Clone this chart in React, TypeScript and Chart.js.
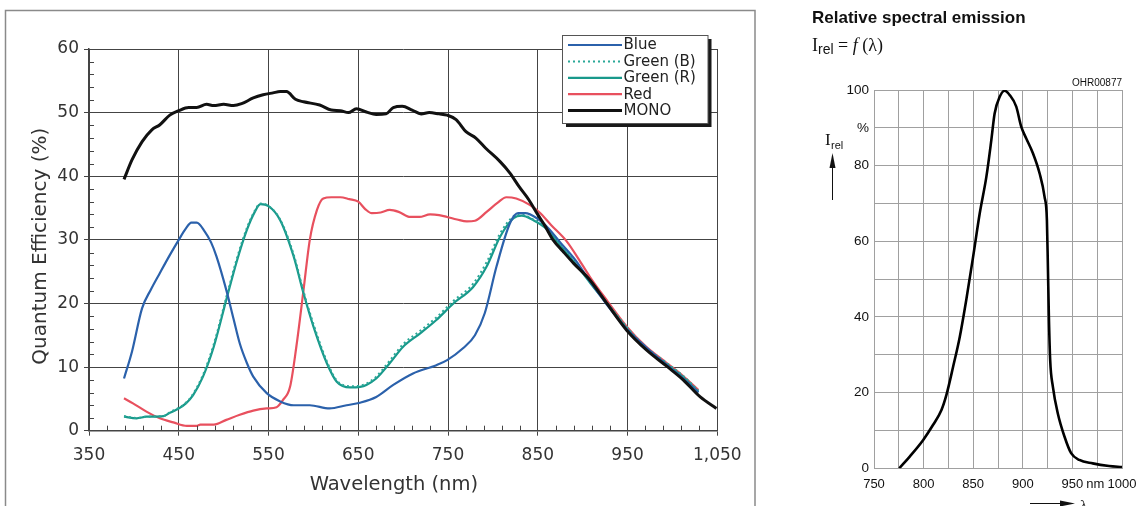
import React, { useEffect, useRef } from 'react';
import { Chart, registerables } from 'chart.js';

Chart.register(...registerables);

// ---------- Left chart: Quantum efficiency ----------
const blueNm = [389, 398, 409, 419, 429, 440, 450, 458, 464, 470, 479, 486, 492, 503, 511, 518, 526, 533, 548, 563, 578, 596, 618, 637, 652, 670, 689, 711, 737, 749, 767, 780, 791, 804, 819, 828, 836, 849, 862, 875, 892, 908, 926, 949, 970, 994, 1012, 1029];
const blueQE = [8.2, 12.5, 19.2, 22.2, 24.8, 27.6, 30.0, 31.8, 32.7, 32.7, 31.3, 29.6, 27.4, 22.1, 17.6, 13.7, 10.6, 8.5, 5.9, 4.6, 4.0, 4.0, 3.5, 4.0, 4.4, 5.3, 7.2, 9.0, 10.3, 11.1, 13.0, 15.0, 18.5, 25.8, 32.6, 34.2, 34.2, 33.4, 31.8, 29.6, 26.8, 23.5, 20.0, 16.0, 13.2, 10.3, 8.2, 6.0];

const greenRNm = [389, 403, 414, 433, 440, 450, 458, 466, 477, 489, 503, 515, 526, 534, 541, 550, 563, 578, 589, 600, 615, 626, 641, 652, 659, 670, 685, 700, 719, 737, 756, 778, 793, 808, 823, 832, 845, 860, 871, 890, 908, 928, 949, 970, 994, 1012, 1029];
const greenRQE = [2.2, 1.95, 2.2, 2.3, 2.8, 3.5, 4.3, 5.6, 8.5, 13.2, 20.6, 26.8, 31.6, 34.2, 35.6, 35.3, 33.1, 27.4, 21.6, 16.4, 10.6, 7.7, 6.8, 6.9, 7.2, 8.2, 10.6, 13.2, 15.3, 17.4, 20.0, 22.6, 25.8, 30.5, 33.4, 33.8, 33.1, 31.7, 29.8, 26.6, 23.3, 19.8, 16.1, 13.0, 10.4, 8.4, 6.1];

const greenBNm = [389, 403, 414, 433, 440, 450, 458, 466, 477, 489, 503, 515, 526, 534, 541, 550, 563, 578, 589, 600, 615, 626, 641, 652, 659, 670, 685, 700, 719, 737, 756, 778, 793, 808, 823, 832, 845, 860, 871, 890, 908, 928, 949, 970, 994, 1012, 1029];
const greenBQE = [2.3, 2.0, 2.2, 2.3, 2.9, 3.6, 4.4, 5.8, 8.8, 13.6, 21.0, 27.2, 31.9, 34.4, 35.7, 35.3, 33.2, 27.7, 21.9, 16.8, 10.9, 7.9, 7.0, 7.1, 7.4, 8.5, 11.0, 13.6, 15.7, 17.8, 20.4, 23.1, 26.5, 31.0, 33.7, 34.0, 33.2, 31.9, 30.0, 26.8, 23.5, 20.0, 16.3, 13.2, 10.6, 8.6, 6.3];

const redNm = [389, 399, 414, 429, 444, 459, 470, 474, 489, 503, 518, 533, 548, 559, 566, 574, 581, 589, 596, 604, 611, 620, 630, 640, 650, 658, 665, 675, 685, 695, 708, 718, 730, 740, 749, 760, 771, 780, 793, 805, 815, 826, 841, 852, 865, 882, 895, 908, 928, 949, 970, 994, 1012, 1029];
const redQE = [5.1, 4.3, 3.0, 1.95, 1.3, 0.75, 0.75, 0.95, 0.95, 1.7, 2.5, 3.15, 3.5, 3.7, 4.8, 6.9, 13.2, 22.1, 30.0, 34.7, 36.5, 36.7, 36.7, 36.4, 36.0, 34.8, 34.2, 34.3, 34.7, 34.4, 33.6, 33.6, 34.0, 33.9, 33.6, 33.2, 32.9, 33.0, 34.4, 35.8, 36.7, 36.5, 35.5, 34.3, 32.3, 29.8, 27.1, 24.2, 20.3, 16.4, 13.3, 10.6, 8.6, 6.4];

const monoNm = [389, 398, 409, 420, 429, 440, 450, 461, 470, 481, 489, 500, 511, 520, 533, 544, 555, 563, 570, 580, 589, 607, 620, 630, 639, 648, 659, 670, 681, 689, 699, 710, 720, 729, 740, 749, 759, 770, 781, 792, 808, 819, 829, 840, 849, 858, 867, 878, 890, 908, 927, 949, 971, 994, 1012, 1031, 1049];
const monoQE = [39.5, 42.6, 45.4, 47.3, 48.1, 49.6, 50.3, 50.8, 50.8, 51.3, 51.1, 51.3, 51.1, 51.4, 52.3, 52.8, 53.1, 53.3, 53.3, 52.1, 51.7, 51.2, 50.4, 50.3, 50.0, 50.6, 50.1, 49.7, 49.8, 50.8, 51.0, 50.4, 49.8, 50.0, 49.8, 49.6, 48.9, 47.0, 46.0, 44.4, 42.3, 40.5, 38.4, 36.3, 34.2, 32.2, 30.0, 28.2, 26.3, 23.7, 20.0, 15.8, 12.7, 10.1, 8.0, 5.3, 3.5];

const qeXTickLabels = ['350', '450', '550', '650', '750', '850', '950', '1,050'];
const qeYTickLabels = ['0', '10', '20', '30', '40', '50', '60'];

// ---------- Right chart: relative spectral emission ----------
const emissionNm = [775.5, 786, 799.6, 809.6, 818, 823, 829.8, 836.5, 843, 849.9, 856.6, 863.3, 868.3, 871.6, 876.7, 881.7, 886.7, 893.4, 898.4, 903.5, 910.2, 916.9, 921.9, 924.3, 925.3, 926.3, 927.6, 930.3, 935.3, 942, 948.7, 957, 970.5, 987, 1000];
const emissionRel = [0, 3.1, 7.5, 11.5, 15.4, 19.4, 26.9, 34.8, 44.5, 55.9, 67.4, 77.1, 86.8, 93.8, 98.2, 99.8, 98.7, 95.6, 90.3, 87.2, 83.3, 78.0, 71.8, 65.6, 53.3, 40.1, 28.6, 21.6, 14.5, 8.4, 4.0, 2.2, 1.3, 0.6, 0.3];

const emXTickLabels = ['750', '', '800', '', '850', '', '900', '', '950', 'nm ', '1000'];
const emYTickLabels = ['0', '', '20', '', '40', '', '60', '', '80', '%', '100'];

const pts = (xs: number[], ys: number[]) => xs.map((x, i) => ({ x, y: ys[i] }));

const QE_FONT = '"DejaVu Sans", "Open Sans", sans-serif';
const EM_FONT = '"Liberation Sans", Arial, sans-serif';

const noXPad = (s: any, h: number) => { s.height = h; s.paddingLeft = 0; s.paddingRight = 0; };
const noYPad = (s: any, w: number) => { s.width = w; s.paddingTop = 0; s.paddingBottom = 0; };

const framePlugin = {
  id: 'frame',
  beforeDraw(chart: any) {
    const ctx = chart.ctx;
    ctx.save();
    ctx.fillStyle = '#fff';
    ctx.fillRect(0, 0, chart.width, chart.height);
    ctx.strokeStyle = '#8a8a8a';
    ctx.lineWidth = 1.5;
    ctx.strokeRect(5.5, 10.5, 749.5, 520);
    ctx.restore();
  },
};

const minorTicksPlugin = {
  id: 'minorTicks',
  afterDraw(chart: any) {
    const ctx = chart.ctx;
    const xs = chart.scales.x;
    const ys = chart.scales.y;
    const { left, bottom } = chart.chartArea;
    ctx.save();
    ctx.strokeStyle = '#444';
    ctx.lineWidth = 1;
    ctx.beginPath();
    for (let v = xs.min + 20; v < xs.max; v += 20) {
      if ((v - xs.min) % 100 === 0) continue;
      const px = Math.round(xs.getPixelForValue(v)) + 0.5;
      ctx.moveTo(px, bottom);
      ctx.lineTo(px, bottom - 5);
    }
    for (let v = ys.min + 2; v < ys.max; v += 2) {
      if (v % 10 === 0) continue;
      const py = Math.round(ys.getPixelForValue(v)) + 0.5;
      ctx.moveTo(left, py);
      ctx.lineTo(left + 5, py);
    }
    ctx.stroke();
    ctx.restore();
  },
};

const boxLegendPlugin = {
  id: 'boxLegend',
  afterDraw(chart: any) {
    const ctx = chart.ctx;
    const x0 = 562.5, y0 = 35.5, w = 145.5, h = 88;
    ctx.save();
    ctx.fillStyle = '#1a1a1a';
    ctx.fillRect(x0 + 3.5, y0 + 3.5, w, h);
    ctx.fillStyle = '#fff';
    ctx.fillRect(x0, y0, w, h);
    ctx.strokeStyle = '#555';
    ctx.lineWidth = 1;
    ctx.strokeRect(x0, y0, w, h);
    ctx.font = '15px ' + QE_FONT;
    ctx.textBaseline = 'middle';
    chart.data.datasets.forEach((ds: any, i: number) => {
      const y = 45 + i * 16.4;
      ctx.beginPath();
      ctx.strokeStyle = ds.borderColor;
      ctx.lineWidth = ds.borderWidth;
      ctx.setLineDash(ds.borderDash || []);
      ctx.moveTo(568, y);
      ctx.lineTo(622, y);
      ctx.stroke();
      ctx.setLineDash([]);
      ctx.fillStyle = '#222';
      ctx.fillText(ds.label, 623.5, y + 0.5);
    });
    ctx.restore();
  },
};

const emExtrasPlugin = {
  id: 'emExtras',
  afterDraw(chart: any) {
    const ctx = chart.ctx;
    ctx.save();
    ctx.fillStyle = '#111';
    ctx.strokeStyle = '#111';
    // OHR code
    ctx.font = '10px ' + EM_FONT;
    ctx.textAlign = 'right';
    ctx.textBaseline = 'middle';
    ctx.fillText('OHR00877', chart.chartArea.right, 83);
    // I_rel label
    ctx.textAlign = 'left';
    ctx.textBaseline = 'alphabetic';
    ctx.font = '17px "Liberation Serif", serif';
    ctx.fillText('I', 65, 145);
    ctx.font = '11px ' + EM_FONT;
    ctx.fillText('rel', 71, 149);
    // vertical arrow
    ctx.lineWidth = 1;
    ctx.beginPath();
    ctx.moveTo(72.5, 200);
    ctx.lineTo(72.5, 165);
    ctx.stroke();
    ctx.beginPath();
    ctx.moveTo(72.5, 153);
    ctx.lineTo(69.5, 168);
    ctx.lineTo(75.5, 168);
    ctx.closePath();
    ctx.fill();
    // lambda arrow
    ctx.beginPath();
    ctx.moveTo(270, 503.5);
    ctx.lineTo(305, 503.5);
    ctx.stroke();
    ctx.beginPath();
    ctx.moveTo(315, 503.5);
    ctx.lineTo(300, 500.5);
    ctx.lineTo(300, 506.5);
    ctx.closePath();
    ctx.fill();
    ctx.font = '15px "Liberation Serif", serif';
    ctx.fillText('λ', 320, 510);
    ctx.restore();
  },
};

export default function App() {
  const leftRef = useRef<HTMLCanvasElement>(null);
  const rightRef = useRef<HTMLCanvasElement>(null);

  useEffect(() => {
    const left = new Chart(leftRef.current!, {
      type: 'line',
      data: {
        datasets: [
          { label: 'Blue', data: pts(blueNm, blueQE), borderColor: '#2b61ab', borderWidth: 2.2 },
          { label: 'Green (B)', data: pts(greenBNm, greenBQE), borderColor: '#2aa898', borderWidth: 2, borderDash: [2, 3] },
          { label: 'Green (R)', data: pts(greenRNm, greenRQE), borderColor: '#18998b', borderWidth: 2.2 },
          { label: 'Red', data: pts(redNm, redQE), borderColor: '#e8505e', borderWidth: 2.2 },
          { label: 'MONO', data: pts(monoNm, monoQE), borderColor: '#111111', borderWidth: 3, order: -1 },
        ] as any,
      },
      options: {
        animation: false,
        responsive: false,
        maintainAspectRatio: false,
        parsing: false as any,
        elements: {
          point: { radius: 0 },
          line: { cubicInterpolationMode: 'monotone', fill: false },
        },
        layout: { padding: { left: 0, top: 49, right: 42.7, bottom: 0 } },
        plugins: { legend: { display: false }, tooltip: { enabled: false }, title: { display: false } },
        scales: {
          x: {
            type: 'linear',
            min: 350,
            max: 1050,
            afterFit: (s: any) => noXPad(s, 75.3),
            ticks: {
              stepSize: 100,
              autoSkip: false,
              maxRotation: 0,
              padding: 10,
              color: '#333',
              font: { family: QE_FONT, size: 17 },
              callback: (_v: any, i: number) => qeXTickLabels[i],
            },
            grid: { color: '#444', lineWidth: 1, tickLength: 5, tickColor: '#444' },
            border: { color: '#444', width: 1.5 },
            title: {
              display: true,
              text: 'Wavelength (nm)   ',
              color: '#333',
              font: { family: QE_FONT, size: 19.5 },
              padding: { top: 0, bottom: 9 },
            },
          },
          y: {
            type: 'linear',
            min: 0,
            max: 60,
            afterFit: (s: any) => noYPad(s, 89),
            ticks: {
              stepSize: 10,
              autoSkip: false,
              padding: 5,
              color: '#333',
              font: { family: QE_FONT, size: 17 },
              callback: (_v: any, i: number) => qeYTickLabels[i],
            },
            grid: { color: '#444', lineWidth: 1, tickLength: 5, tickColor: '#444' },
            border: { color: '#444', width: 1.5 },
            title: {
              display: true,
              text: 'Quantum Efficiency (%)  ',
              color: '#333',
              font: { family: QE_FONT, size: 20 },
              padding: { top: 29, bottom: 0 },
            },
          },
        },
      } as any,
      plugins: [framePlugin, minorTicksPlugin, boxLegendPlugin],
    });

    const right = new Chart(rightRef.current!, {
      type: 'line',
      data: {
        datasets: [
          { label: 'Irel', data: pts(emissionNm, emissionRel), borderColor: '#000', borderWidth: 2.6 },
        ] as any,
      },
      options: {
        animation: false,
        responsive: false,
        maintainAspectRatio: false,
        parsing: false as any,
        elements: {
          point: { radius: 0 },
          line: { cubicInterpolationMode: 'monotone', fill: false },
        },
        layout: { padding: { left: 0, top: 90, right: 14, bottom: 0 } },
        plugins: { legend: { display: false }, tooltip: { enabled: false }, title: { display: false } },
        scales: {
          x: {
            type: 'linear',
            min: 750,
            max: 1000,
            afterFit: (s: any) => noXPad(s, 37.7),
            ticks: {
              stepSize: 25,
              autoSkip: false,
              maxRotation: 0,
              padding: 8,
              color: '#111',
              font: { family: EM_FONT, size: 13 },
              callback: (_v: any, i: number) => emXTickLabels[i],
            },
            grid: { color: '#a0a0a0', lineWidth: 1, drawTicks: false },
            border: { color: '#a0a0a0', width: 1 },
          },
          y: {
            type: 'linear',
            min: 0,
            max: 100,
            afterFit: (s: any) => noYPad(s, 114),
            ticks: {
              stepSize: 10,
              autoSkip: false,
              padding: 5,
              color: '#111',
              font: { family: EM_FONT, size: 13.5 },
              callback: (_v: any, i: number) => emYTickLabels[i],
            },
            grid: { color: '#a0a0a0', lineWidth: 1, drawTicks: false },
            border: { color: '#a0a0a0', width: 1 },
          },
        },
      } as any,
      plugins: [emExtrasPlugin],
    });

    return () => {
      left.destroy();
      right.destroy();
    };
  }, []);

  return (
    <div style={{ position: 'absolute', left: 0, top: 0, width: 1136, height: 506, background: '#fff', overflow: 'hidden' }}>
      <canvas ref={leftRef} width={760} height={506} style={{ position: 'absolute', left: 0, top: 0, width: 760, height: 506 }} />
      <canvas ref={rightRef} width={376} height={506} style={{ position: 'absolute', left: 760, top: 0, width: 376, height: 506 }} />
      <div style={{ position: 'absolute', left: 812, top: 8, font: 'bold 17px "Liberation Sans", Arial, sans-serif', lineHeight: '20px', whiteSpace: 'nowrap', color: '#111' }}>
        Relative spectral emission
      </div>
      <div style={{ position: 'absolute', left: 812, top: 35, font: '18px "Liberation Serif", serif', lineHeight: '20px', whiteSpace: 'nowrap', color: '#111' }}>
        I<span style={{ font: '14px "Liberation Sans", Arial, sans-serif', position: 'relative', top: 3 }}>rel</span> = <i>f</i> (λ)
      </div>
    </div>
  );
}
